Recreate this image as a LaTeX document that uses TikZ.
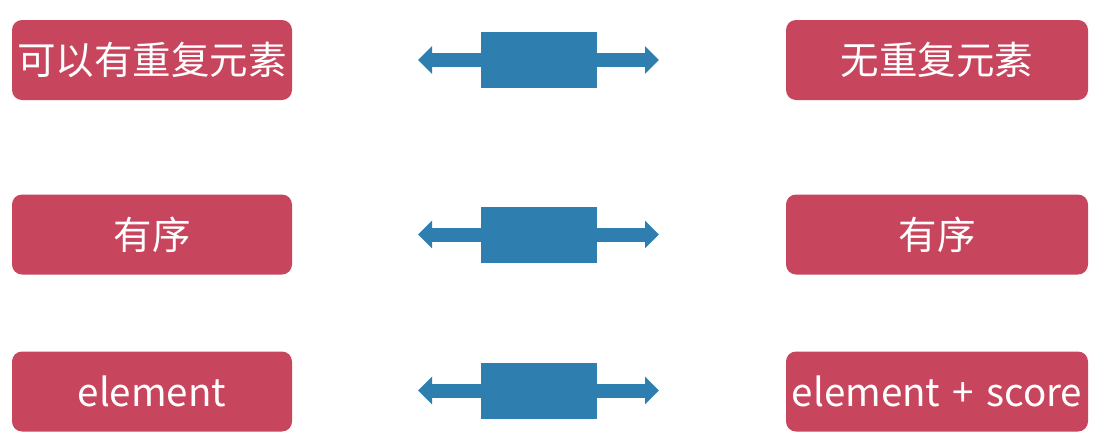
\documentclass[tikz,border=0pt]{standalone}
\usepackage{fontspec}
\setmainfont{Noto Sans CJK SC}
\usetikzlibrary{arrows.meta}
\definecolor{boxred}{HTML}{C8455E}
\definecolor{arrblue}{HTML}{2E7FAF}
\tikzset{
  redbox/.style={fill=boxred, rounded corners=10pt, minimum width=#1, minimum height=80pt, inner sep=0pt, text=white, font=\fontsize{38.5}{42}\selectfont},
  midrect/.style={fill=arrblue, minimum width=116pt, minimum height=56pt, inner sep=0pt},
  shaft/.style={draw=arrblue, line width=14pt, -{Triangle[width=27pt,length=14pt]}}
}
\begin{document}
\begin{tikzpicture}[x=1pt,y=-1pt]
\useasboundingbox (0,0) rectangle (1103,440);
\fill[white] (0,0) rectangle (1103,440);
% left boxes
\node[redbox=280pt] (l1) at (152,60) {可以有重复元素};
\node[redbox=280pt] (l2) at (152,234.5) {有序};
\node[redbox=280pt] (l3) at (152,391.5) {element};
% right boxes
\node[redbox=302pt] (r1) at (937,60) {无重复元素};
\node[redbox=302pt] (r2) at (937,234.5) {有序};
\node[redbox=302pt] (r3) at (937,391.5) {element\hspace{0.32em}+\hspace{0.32em}score};
% arrows
\foreach \i/\y in {1/60,2/234.5,3/390.5}{
  \node[midrect] (m\i) at (539,\y) {};
  \coordinate (a\i) at (418,\y);
  \coordinate (b\i) at (659,\y);
  \draw[shaft] (m\i.west) -- (a\i);
  \draw[shaft] (m\i.east) -- (b\i);
}
\end{tikzpicture}
\end{document}
